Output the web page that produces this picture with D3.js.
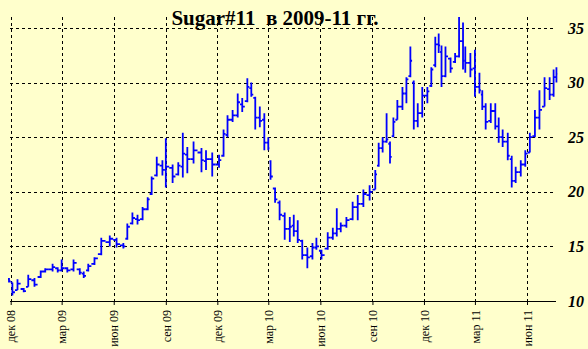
<!DOCTYPE html>
<html><head><meta charset="utf-8">
<script src="https://cdn.jsdelivr.net/npm/d3@7"></script>
<style>
html,body{margin:0;padding:0;background:#FFFFCC;}
svg{display:block;}
</style></head>
<body>
<script>
const title = "Sugar#11  в 2009-11 гг.";
const dates = ["2008-11-28","2008-12-04","2008-12-13","2008-12-24","2009-01-01","2009-01-12","2009-01-23","2009-01-31","2009-02-13","2009-02-22",
"2009-03-01","2009-03-11","2009-03-22","2009-04-02","2009-04-09","2009-04-17","2009-04-28","2009-05-10","2009-05-25","2009-06-06",
"2009-06-18","2009-06-25","2009-07-04","2009-07-13","2009-07-22","2009-07-31","2009-08-07","2009-08-16","2009-08-26","2009-09-01",
"2009-09-13","2009-09-23","2009-10-01","2009-10-09","2009-10-20","2009-11-03","2009-11-11","2009-11-22","2009-12-04","2009-12-12",
"2009-12-19","2009-12-28","2010-01-06","2010-01-14","2010-01-23","2010-01-30","2010-02-06","2010-02-14","2010-02-22","2010-03-01",
"2010-03-05","2010-03-13","2010-03-21","2010-03-30","2010-04-08","2010-04-15","2010-04-22","2010-04-30","2010-05-09","2010-05-18",
"2010-05-25","2010-06-03","2010-06-14","2010-06-23","2010-06-30","2010-07-07","2010-07-17","2010-07-28","2010-08-06","2010-08-16",
"2010-08-27","2010-09-06","2010-09-12","2010-09-19","2010-09-26","2010-10-02","2010-10-08","2010-10-15","2010-10-24","2010-10-31",
"2010-11-07","2010-11-13","2010-11-20","2010-11-28","2010-12-07","2010-12-14","2010-12-21","2010-12-27","2011-01-01","2011-01-08",
"2011-01-17","2011-01-25","2011-02-01","2011-02-08","2011-02-12","2011-02-21","2011-03-01","2011-03-09","2011-03-14","2011-03-20",
"2011-03-29","2011-04-06","2011-04-12","2011-04-19","2011-04-28","2011-05-05","2011-05-12","2011-05-21","2011-05-29","2011-06-06",
"2011-06-15","2011-06-23","2011-07-02","2011-07-11","2011-07-18","2011-07-23"];
const high = [12.1,11.7,12.0,11.2,12.4,12.1,12.8,13.0,13.4,13.1, 13.8,13.1,13.8,13.0,12.7,13.4,14.0,15.8,16.0,15.8,
15.3,17.1,18.1,17.9,18.6,19.5,21.4,23.2,22.9,24.9, 22.5,22.7,25.4,24.1,24.6,24.0,23.8,23.6,23.4,25.7,
27.0,27.5,29.0,28.6,30.4,30.0,28.7,27.8,27.2,25.0, 22.9,20.4,19.2,18.1,17.7,17.9,17.4,15.6,14.9,15.3,
15.8,14.7,16.3,16.7,18.5,17.2,17.7,19.1,19.7,20.2, 20.6,22.0,24.5,25.0,27.2,24.6,26.8,28.4,29.6,30.5,
33.3,30.2,28.1,29.6,29.6,31.4,34.2,34.5,33.4,33.3, 32.3,32.7,36.0,35.5,33.3,32.7,33.0,30.9,29.3,28.1,
28.1,28.1,26.8,25.7,25.4,23.3,22.3,22.9,23.8,25.4, 27.5,29.3,30.5,30.5,31.2,31.4];
const low = [11.7,10.5,11.0,10.8,11.3,11.3,12.1,12.6,12.7,12.6, 12.7,12.6,12.7,12.4,12.1,12.7,13.3,14.2,15.0,14.9,
14.8,15.6,17.0,17.0,17.4,18.3,19.7,21.4,21.5,20.4, 20.8,21.5,21.3,21.7,22.6,21.8,22.0,21.4,22.2,23.2,
25.0,26.4,26.8,27.3,28.2,28.7,25.7,25.9,23.8,23.8, 21.1,19.0,17.4,15.6,15.4,15.9,15.3,13.8,13.0,13.8,
14.7,13.8,14.7,15.6,15.9,16.3,16.7,17.4,17.4,18.6, 19.2,20.2,22.3,23.6,24.5,22.6,25.0,26.6,27.5,28.1,
30.5,25.7,25.9,26.8,28.1,29.6,31.4,32.7,29.6,30.5, 30.9,31.8,32.3,31.2,30.9,30.5,28.7,29.0,27.5,25.7,
26.3,25.7,24.5,24.1,22.9,20.4,20.8,21.4,22.3,23.6, 25.0,25.7,27.8,28.4,28.7,30.0];
const open = [12.0,11.7,11.0,11.1,11.3,11.9,12.2,12.7,12.9,13.0, 12.8,13.0,12.9,12.9,12.5,12.8,13.4,14.3,15.4,15.6,
15.1,15.7,17.1,17.5,17.5,18.4,19.8,21.5,22.4,22.0, 22.2,21.6,22.3,23.4,23.0,23.6,22.8,23.0,22.5,23.3,
25.2,26.6,27.0,28.0,28.3,29.5,28.6,26.8,26.6,24.5, 22.8,20.3,19.0,17.8,16.6,16.9,16.4,15.5,14.2,14.1,
14.9,14.6,14.8,15.8,16.2,16.6,16.9,17.5,18.6,18.9, 19.7,20.2,22.4,24.0,24.6,24.4,25.1,26.6,27.8,29.0,
30.6,30.0,26.5,27.2,28.8,29.7,31.6,33.5,32.8,30.6, 32.2,31.9,32.4,33.8,32.0,31.8,31.3,29.6,28.9,27.8,
26.5,27.4,26.0,25.0,24.6,23.0,21.0,21.8,22.5,23.6, 25.1,26.8,27.8,29.4,28.9,30.5];
const close = [11.8,10.8,11.6,10.9,12.0,11.5,12.7,12.9,13.1,12.8, 13.0,12.8,13.5,12.6,12.3,13.2,13.9,15.5,15.7,15.2,
15.0,16.8,17.6,17.4,18.4,19.3,21.2,22.5,22.0,22.3, 21.4,22.4,23.5,23.0,23.8,22.9,23.0,22.5,22.9,25.3,
26.6,27.0,28.2,27.8,29.6,28.9,26.8,26.5,24.5,24.0, 21.4,19.3,17.9,16.6,16.8,16.4,15.6,14.2,14.0,14.9,
15.0,14.2,15.8,16.2,16.6,16.9,17.4,18.6,18.9,19.8, 20.0,21.6,24.0,24.6,24.8,23.2,26.4,27.8,29.0,30.3,
32.0,26.5,27.2,28.8,29.2,31.2,33.5,33.4,30.6,32.4, 31.3,32.4,33.8,32.0,31.8,31.2,29.6,29.3,27.8,26.4,
27.4,26.0,25.0,24.6,23.3,21.0,21.8,22.5,23.5,25.0, 26.8,27.5,29.5,28.9,30.5,30.8];
const tickDates = ["2008-12-01","2009-03-01","2009-06-01","2009-09-01","2009-12-01","2010-03-01","2010-06-01","2010-09-01","2010-12-01","2011-03-01","2011-06-01"];
const tickLabels = ["дек 08","мар 09","июн 09","сен 09","дек 09","мар 10","июн 10","сен 10","дек 10","мар 11","июн 11"];
const yTicks = [10,15,20,25,30,35];

const W = 588, H = 349;
const parse = d3.utcParse("%Y-%m-%d");
const svg = d3.select("body").append("svg").attr("width", W).attr("height", H);
svg.append("rect").attr("width", W).attr("height", H).attr("fill", "#FFFFCC");

const x = d3.scaleUtc().domain([parse("2008-12-01"), parse("2011-06-01")]).range([10.7, 527]);
const y = d3.scaleLinear().domain([10, 35]).range([301, 28]);
const plotLeft = 10, plotRight = 556, plotTop = 17;

// horizontal grid
svg.append("g").selectAll("line").data(yTicks.filter(v => v > 10)).join("line")
  .attr("x1", plotLeft).attr("x2", plotRight - 1)
  .attr("y1", d => Math.round(y(d)) + 0.5).attr("y2", d => Math.round(y(d)) + 0.5)
  .attr("stroke", "#000").attr("stroke-dasharray", "3,3");
// vertical grid
svg.append("g").selectAll("line").data(tickDates).join("line")
  .attr("x1", d => Math.round(x(parse(d))) + 0.5).attr("x2", d => Math.round(x(parse(d))) + 0.5)
  .attr("y1", plotTop).attr("y2", 301)
  .attr("stroke", "#000").attr("stroke-dasharray", "3,3");

// bars
const data = dates.map((d, i) => ({ t: parse(d), h: high[i], l: low[i], o: open[i], c: close[i] }));
data.forEach((d, i) => {
  d.cx = x(d.t);
  const px = i > 0 ? x(data[i - 1].t) : d.cx - 2;
  const nx = i < dates.length - 1 ? x(parse(dates[i + 1])) : d.cx + 2;
  d.lx = (px + d.cx) / 2; d.rx = (nx + d.cx) / 2;
});
const g = svg.append("g").attr("stroke", "#0000FF").attr("stroke-width", 1.8).attr("fill", "none");
g.selectAll("path").data(data).join("path")
  .attr("d", d => `M${d.cx},${y(d.h)}V${y(d.l)}M${d.lx},${y(d.o)}H${d.cx}M${d.cx},${y(d.c)}H${d.rx}`);

// x axis
const xa = svg.append("g").attr("transform", "translate(0,301)")
  .call(d3.axisBottom(x).tickValues(tickDates.map(parse)).tickSize(4)
    .tickFormat((d, i) => tickLabels[i]));
xa.select(".domain").remove();
xa.selectAll(".tick line").attr("stroke", "#000");
xa.selectAll(".tick text")
  .attr("font-family", "Liberation Serif, Times New Roman, serif").attr("font-size", 12).attr("fill", "#000")
  .attr("transform", "rotate(-90)").attr("text-anchor", "end")
  .attr("x", -9).attr("y", 0).attr("dy", "0.35em");
svg.append("line").attr("x1", plotLeft).attr("x2", plotRight).attr("y1", 301.5).attr("y2", 301.5)
  .attr("stroke", "#000").attr("stroke-width", 1.2);

// y axis labels
const ya = svg.append("g").attr("transform", "translate(566,0)")
  .call(d3.axisRight(y).tickValues(yTicks).tickSize(0).tickFormat(d3.format("d")));
ya.select(".domain").remove();
ya.selectAll(".tick text").attr("x", 2)
  .attr("font-family", "Liberation Serif, Times New Roman, serif").attr("font-size", 16)
  .attr("font-weight", "bold").attr("font-style", "italic").attr("fill", "#000");

// title
svg.append("text").attr("x", 275).attr("y", 25).attr("text-anchor", "middle")
  .style("white-space", "pre")
  .attr("font-family", "Liberation Serif, Times New Roman, serif").attr("font-size", 21)
  .attr("font-weight", "bold").attr("fill", "#000").text(title);
</script>
</body></html>
